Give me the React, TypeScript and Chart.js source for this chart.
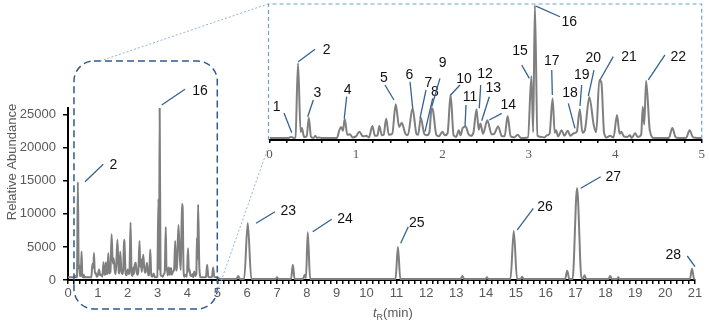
import React, { useEffect, useRef } from 'react';
import { Chart, registerables } from 'chart.js';

Chart.register(...registerables);

// ---- DATA -------------------------------------------------------------
// Chromatogram trace, 0–5 min (retention time [min], relative abundance)
const earlyTrace: [number, number][] = [
  [0, 400], [0.22, 400], [0.25, 600], [0.28, 400], [0.3, 500], [0.33, 14800], [0.36, 1500],
  [0.375, 2300], [0.4, 600], [0.43, 700], [0.455, 4300], [0.48, 600], [0.51, 400], [0.53, 800],
  [0.55, 400], [0.57, 500], [0.6, 400], [0.78, 400], [0.81, 2000], [0.83, 2500], [0.85, 1800],
  [0.87, 4100], [0.9, 1000], [0.93, 1100], [0.96, 500], [1.0, 700], [1.04, 1600], [1.08, 700],
  [1.12, 800], [1.15, 500], [1.19, 2700], [1.22, 800], [1.25, 900], [1.27, 2700], [1.3, 900],
  [1.32, 1000], [1.35, 4100], [1.38, 1000], [1.42, 1200], [1.46, 6900], [1.5, 2500], [1.53, 3300],
  [1.57, 1300], [1.6, 900], [1.655, 6100], [1.7, 1200], [1.72, 1000], [1.75, 4300], [1.79, 1200],
  [1.82, 900], [1.85, 1500], [1.875, 6100], [1.89, 5800], [1.93, 1000], [1.96, 700], [2.0, 1600],
  [2.03, 900], [2.06, 1300], [2.095, 8700], [2.13, 900], [2.16, 600], [2.19, 1900], [2.21, 900],
  [2.235, 2300], [2.27, 2600], [2.3, 1200], [2.33, 800], [2.36, 1500], [2.395, 5900], [2.42, 2000],
  [2.44, 3200], [2.47, 1200], [2.52, 3800], [2.57, 1100], [2.6, 1200], [2.645, 2600], [2.69, 700],
  [2.72, 700], [2.755, 4600], [2.79, 700], [2.83, 500], [2.87, 1000], [2.91, 400], [2.95, 400],
  [2.99, 500], [3.03, 12300], [3.05, 1500], [3.07, 26000], [3.1, 800], [3.14, 600], [3.18, 500],
  [3.21, 900], [3.24, 1200], [3.275, 8000], [3.3, 1400], [3.315, 1900], [3.34, 700], [3.38, 1900],
  [3.41, 800], [3.45, 1800], [3.48, 800], [3.52, 1300], [3.555, 1600], [3.59, 5900], [3.62, 1400],
  [3.65, 2000], [3.7, 8300], [3.75, 3000], [3.78, 1500], [3.815, 11500], [3.84, 11000], [3.87, 1500],
  [3.9, 500], [3.94, 800], [3.98, 500], [4.02, 4800], [4.05, 1200], [4.07, 1600], [4.1, 700],
  [4.14, 600], [4.17, 900], [4.19, 400], [4.23, 1300], [4.26, 600], [4.3, 1000], [4.318, 6400],
  [4.335, 3000], [4.357, 11400], [4.4, 1800], [4.45, 400], [4.5, 400], [4.62, 400], [4.66, 2300],
  [4.7, 500], [4.74, 400], [4.82, 400], [4.86, 1900], [4.9, 500], [4.95, 400], [5.0, 400],
];

// Chromatogram trace, 5–21 min
const lateTrace: [number, number][] = [
  [5.1, 150], [5.64, 150], [5.7, 600], [5.76, 150], [5.9, 150], [6.02, 8600], [6.14, 150],
  [6.95, 150], [7.0, 400], [7.05, 150], [7.47, 150], [7.53, 2300], [7.59, 150], [7.87, 150],
  [7.93, 800], [7.97, 300], [8.03, 7200], [8.11, 150], [10.97, 150], [11.05, 5000], [11.13, 150],
  [13.15, 150], [13.21, 600], [13.27, 150], [13.98, 150], [14.03, 400], [14.08, 150], [14.82, 150],
  [14.93, 7400], [15.04, 150], [15.16, 150], [15.21, 500], [15.26, 150], [16.65, 150], [16.72, 1400],
  [16.79, 150], [16.9, 150], [17.05, 13900], [17.2, 150], [17.25, 200], [17.3, 700], [17.36, 150],
  [18.1, 150], [18.16, 600], [18.22, 150], [18.39, 150], [18.43, 400], [18.47, 150], [20.83, 150],
  [20.9, 1700], [20.97, 150], [21, 150],
];

// Y-axis tick values of the main chart
const yTickValues = [0, 5000, 10000, 15000, 20000, 25000];

// Peak labels in the zoomed inset: label, anchor time, anchor abundance
const insetLabels = ['1', '2', '3', '4', '5', '6', '7', '8', '9', '10', '11', '12', '13', '14', '15', '16', '17', '18', '19', '20', '21', '22'];
const insetLabelTimes = [0.257, 0.333, 0.442, 0.865, 1.44, 1.657, 1.741, 1.799, 1.876, 2.096, 2.262, 2.427, 2.455, 2.543, 3.006, 3.083, 3.272, 3.534, 3.592, 3.688, 3.823, 4.382];
const insetLabelValues = [1400, 15080, 4490, 4180, 7700, 6100, 4180, 1600, 6410, 8670, 2700, 6100, 3720, 3850, 11880, 25800, 8670, 2250, 6550, 8470, 11560, 11560];

// Peak labels in the main chart
const mainLabels = ['2', '16', '23', '24', '25', '26', '27', '28'];
const mainLabelTimes = [0.569, 3.138, 6.297, 8.196, 11.143, 15.048, 17.171, 21.0];
const mainLabelValues = [14860, 26450, 8570, 7300, 5550, 7560, 13860, 2010];

// ---- LAYOUT / STYLE ---------------------------------------------------
// leader offsets in px: [line end dx, line end dy, text dx, text dy]
const insetLeaderOffsets = [
  [-7.7, -19.7, -15, -26], [16.7, -12.4, 28.4, -11.7], [5.6, -16.7, 9.6, -24], [2.4, -21.6, 3.4, -28.3],
  [-9, -15, -10, -21.7], [-2.7, -26.6, -3.4, -33.3], [6, -28.3, 8.3, -35.6], [7.7, -33.4, 10, -40],
  [8.3, -28.4, 11, -43.4], [9.3, -10, 13.3, -15.7], [1, -21, 5, -29.3], [1.4, -23.3, 5.7, -34.3],
  [7.6, -24, 11.6, -32.4], [12.4, -6.7, 19, -15], [-7.6, -13.3, -9.3, -27.6], [24, 10.7, 33.3, 15.7],
  [-0.6, -25, -0.6, -34.3], [-6.7, -25, -5, -35.6], [1.7, -21, 1.7, -31], [5.7, -26, 5, -37.7],
  [13.3, -23.3, 29, -22.7], [16.7, -25, 30, -23.3],
];
const mainLeaderOffsets = [
  [18.3, -17.4, 28.3, -16.7], [23.3, -15.7, 38.3, -14.3], [19, -11.6, 32.3, -12.6], [19, -12.4, 32.3, -12.4],
  [7.6, -16.6, 16, -20], [16, -21.7, 27.7, -23.3], [20, -11.6, 32.6, -11.6], [-7.7, -10.7, -21.7, -11.7],
];

const SANS = '"Liberation Sans", Arial, sans-serif';
const SERIF = '"Liberation Serif", "Times New Roman", serif';
const TRACE = '#7f7f7f';
const LEADER = '#35638f';
const TICK_TEXT = '#595959';

const W = 709;
const H = 328;
const INSET_H = 170;

const isInt = (v: number) => Math.abs(v - Math.round(v)) < 1e-6;

function drawLeaders(chart: any, labels: string[], times: number[], values: number[], offsets: number[][]) {
  const { ctx, scales } = chart;
  const xs = scales.x;
  const ys = scales.y;
  ctx.save();
  ctx.strokeStyle = LEADER;
  ctx.lineWidth = 1.3;
  ctx.fillStyle = '#111';
  ctx.font = `14px ${SANS}`;
  ctx.textAlign = 'center';
  ctx.textBaseline = 'middle';
  labels.forEach((lab, i) => {
    const px = xs.getPixelForValue(times[i]);
    const py = ys.getPixelForValue(values[i]);
    const [dx, dy, tx, ty] = offsets[i];
    ctx.beginPath();
    ctx.moveTo(px, py);
    ctx.lineTo(px + dx, py + dy);
    ctx.stroke();
    ctx.fillText(lab, px + tx, py + ty);
  });
  ctx.restore();
}

export default function App() {
  const mainRef = useRef<HTMLCanvasElement>(null);
  const insetRef = useRef<HTMLCanvasElement>(null);

  useEffect(() => {
    const toPts = (arr: [number, number][]) => arr.map(([x, y]) => ({ x, y }));
    const mainPts = toPts([...earlyTrace, ...lateTrace]);
    const insetPts = toPts(earlyTrace);

    const mainPlugin = {
      id: 'mainDecor',
      afterDraw(chart: any) {
        const { ctx, scales } = chart;
        const xs = scales.x;
        // axis titles
        ctx.save();
        ctx.fillStyle = TICK_TEXT;
        ctx.font = `13px ${SANS}`;
        ctx.textAlign = 'center';
        ctx.textBaseline = 'middle';
        ctx.translate(12, 162);
        ctx.rotate(-Math.PI / 2);
        ctx.fillText('Relative Abundance', 0, 0);
        ctx.restore();

        ctx.save();
        ctx.fillStyle = TICK_TEXT;
        ctx.textBaseline = 'alphabetic';
        ctx.textAlign = 'left';
        let x0 = 373;
        const base = 317;
        ctx.font = `italic 13px ${SANS}`;
        ctx.fillText('t', x0, base);
        x0 += ctx.measureText('t').width;
        ctx.font = `9px ${SANS}`;
        ctx.fillText('R', x0, base + 3);
        x0 += ctx.measureText('R').width;
        ctx.font = `13px ${SANS}`;
        ctx.fillText('(min)', x0, base);
        ctx.restore();

        // dashed rounded rectangle around 0–5 min
        const rl = xs.getPixelForValue(0.2);
        const rr = xs.getPixelForValue(5);
        const rt = 61;
        const rb = 309;
        ctx.save();
        ctx.strokeStyle = '#2f5b8c';
        ctx.lineWidth = 1.5;
        ctx.setLineDash([7, 4]);
        ctx.beginPath();
        ctx.roundRect(rl, rt, rr - rl, rb - rt, 20);
        ctx.stroke();
        ctx.restore();

        // connector dotted lines to inset
        ctx.save();
        ctx.strokeStyle = '#8fb4da';
        ctx.lineWidth = 1;
        ctx.setLineDash([2, 2]);
        ctx.beginPath();
        ctx.moveTo(100, rt);
        ctx.lineTo(268, 4);
        ctx.moveTo(rr, 292);
        ctx.lineTo(268, 148);
        ctx.stroke();
        ctx.restore();

        drawLeaders(chart, mainLabels, mainLabelTimes, mainLabelValues, mainLeaderOffsets);
      },
    };

    const main = new Chart(mainRef.current as HTMLCanvasElement, {
      type: 'line',
      data: {
        datasets: [
          {
            data: mainPts,
            borderColor: TRACE,
            borderWidth: 2,
            pointRadius: 0,
            fill: false,
            cubicInterpolationMode: 'monotone',
          } as any,
        ],
      },
      options: {
        responsive: false,
        animation: false,
        layout: { padding: { left: 0, right: 14, top: 108, bottom: 0 } },
        plugins: { legend: { display: false }, tooltip: { enabled: false } },
        scales: {
          x: {
            type: 'linear',
            min: 0,
            max: 21,
            afterFit: (s: any) => {
              s.height = 48;
            },
            ticks: {
              stepSize: 0.2,
              autoSkip: false,
              maxRotation: 0,
              padding: 2,
              color: TICK_TEXT,
              font: { family: SANS, size: 13 },
              callback: (v: any) => (isInt(Number(v)) ? String(Math.round(Number(v))) : ''),
            },
            grid: { drawOnChartArea: false, tickLength: 4, color: '#000', lineWidth: 1.5 },
            border: { color: '#000', width: 2 },
          },
          y: {
            min: 0,
            max: 26000,
            afterFit: (s: any) => {
              s.width = 68;
            },
            afterBuildTicks: (s: any) => {
              s.ticks = yTickValues.map((v) => ({ value: v }));
            },
            ticks: {
              padding: 7,
              color: TICK_TEXT,
              font: { family: SANS, size: 13 },
              callback: (v: any) => String(v),
            },
            grid: { drawOnChartArea: false, tickLength: 5, color: '#000', lineWidth: 1.5 },
            border: { color: '#000', width: 2 },
          },
        },
      } as any,
      plugins: [mainPlugin],
    });

    const insetPlugin = {
      id: 'insetDecor',
      afterDraw(chart: any) {
        const { ctx, chartArea } = chart;
        ctx.save();
        ctx.strokeStyle = '#6aa3d8';
        ctx.lineWidth = 1.2;
        ctx.setLineDash([4, 3]);
        ctx.beginPath();
        ctx.moveTo(chartArea.left - 1, chartArea.bottom);
        ctx.lineTo(chartArea.left - 1, 4);
        ctx.lineTo(chartArea.right, 4);
        ctx.lineTo(chartArea.right, chartArea.bottom);
        ctx.stroke();
        ctx.restore();
        drawLeaders(chart, insetLabels, insetLabelTimes, insetLabelValues, insetLeaderOffsets);
      },
    };

    const inset = new Chart(insetRef.current as HTMLCanvasElement, {
      type: 'line',
      data: {
        datasets: [
          {
            data: insetPts,
            borderColor: TRACE,
            borderWidth: 2,
            pointRadius: 0,
            fill: false,
            cubicInterpolationMode: 'monotone',
          } as any,
        ],
      },
      options: {
        responsive: false,
        animation: false,
        layout: { padding: { left: 269.5, right: 7.3, top: 5, bottom: 0 } },
        plugins: { legend: { display: false }, tooltip: { enabled: false } },
        scales: {
          x: {
            type: 'linear',
            min: 0,
            max: 5,
            afterFit: (s: any) => {
              s.height = 30;
            },
            ticks: {
              stepSize: 0.2,
              autoSkip: false,
              maxRotation: 0,
              padding: 4,
              color: TICK_TEXT,
              font: { family: SERIF, size: 13 },
              callback: (v: any) => (isInt(Number(v)) ? String(Math.round(Number(v))) : ''),
            },
            grid: { drawOnChartArea: false, tickLength: 3, color: '#000', lineWidth: 1.5 },
            border: { color: '#000', width: 2 },
          },
          y: { display: false, min: 0, max: 26000 },
        },
      } as any,
      plugins: [insetPlugin],
    });

    return () => {
      main.destroy();
      inset.destroy();
    };
  }, []);

  return (
    <div style={{ position: 'absolute', left: 0, top: 0, width: W, height: H, background: '#fff' }}>
      <canvas ref={mainRef} width={W} height={H} style={{ position: 'absolute', left: 0, top: 0, width: W, height: H }} />
      <canvas
        ref={insetRef}
        width={W}
        height={INSET_H}
        style={{ position: 'absolute', left: 0, top: 0, width: W, height: INSET_H, pointerEvents: 'none' }}
      />
    </div>
  );
}
